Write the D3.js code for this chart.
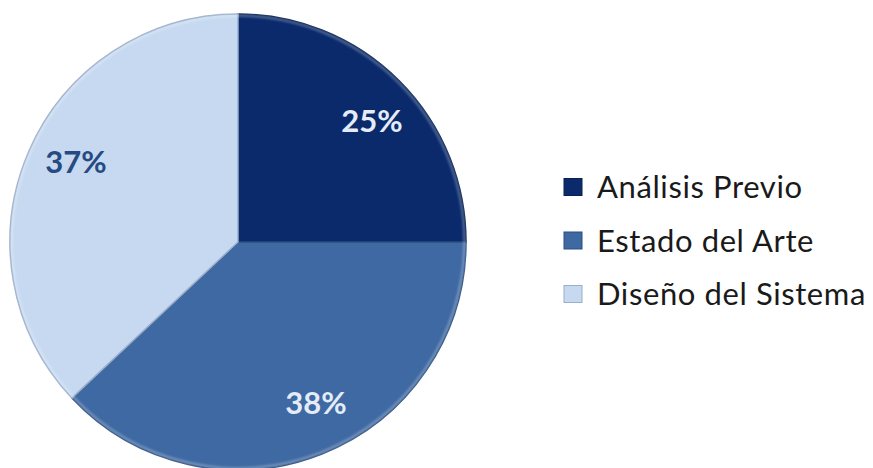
<!DOCTYPE html>
<html>
<head>
<meta charset="utf-8">
<script src="https://cdn.jsdelivr.net/npm/d3@7"></script>
<style>
  body { margin: 0; background: #fff; }
  svg { display: block; }
</style>
</head>
<body>
<div id="content"></div>
<script>
var categories = ["Análisis Previo", "Estado del Arte", "Diseño del Sistema"];
var values = [25, 38, 37];
var labels = ["25%", "38%", "37%"];

var colors = ["#0a2a6c", "#3f69a2", "#c6d9f0"];
var edgeColors = ["#06204f", "#2c4f80", "#9aaecb"];
var labelColors = ["#e4ecf7", "#e4ecf7", "#264a82"];

var width = 873, height = 468;
var cx = 238, cy = 242, radius = 228;

var svg = d3.select("div#content").append("svg")
  .attr("width", width)
  .attr("height", height);

var defs = svg.append("defs");
var blur = defs.append("filter").attr("id", "soft")
  .attr("x", "-10%").attr("y", "-10%").attr("width", "120%").attr("height", "120%");
blur.append("feGaussianBlur").attr("stdDeviation", 1.2);

var pie = d3.pie().sort(null).value(function(d) { return d; });
var arcs = pie(values);

var arc = d3.arc().innerRadius(0).outerRadius(radius);
var rim = d3.arc().innerRadius(radius - 3).outerRadius(radius);

var g = svg.append("g")
  .attr("transform", "translate(" + cx + "," + cy + ")");

g.selectAll(".slice")
  .data(arcs)
  .enter().append("path")
  .attr("class", "slice")
  .attr("d", arc)
  .attr("fill", function(d, i) { return colors[i]; })
  .attr("stroke", function(d, i) { return edgeColors[i]; })
  .attr("stroke-width", 1.5);

// light bevel along the rim
g.selectAll(".rim")
  .data(arcs)
  .enter().append("path")
  .attr("class", "rim")
  .attr("d", rim)
  .attr("fill", "#ffffff")
  .attr("opacity", 0.25)
  .attr("filter", "url(#soft)");

// label positions (relative to centre)
var labelPos = [
  [134, -121],
  [78, 161],
  [-162, -80]
];

g.selectAll(".pct")
  .data(arcs)
  .enter().append("text")
  .attr("class", "pct")
  .attr("x", function(d, i) { return labelPos[i][0]; })
  .attr("y", function(d, i) { return labelPos[i][1]; })
  .attr("dy", "0.36em")
  .attr("text-anchor", "middle")
  .style("font-family", "Lato, 'Open Sans', sans-serif")
  .style("font-weight", "bold")
  .style("font-size", "31px")
  .attr("fill", function(d, i) { return labelColors[i]; })
  .text(function(d, i) { return labels[i]; });

// legend
var legend = svg.append("g")
  .attr("transform", "translate(564,187)");

var rows = legend.selectAll(".row")
  .data(categories)
  .enter().append("g")
  .attr("class", "row")
  .attr("transform", function(d, i) { return "translate(0," + (i * 53.5) + ")"; });

rows.append("rect")
  .attr("x", 0)
  .attr("y", -8.5)
  .attr("width", 18)
  .attr("height", 17)
  .attr("fill", function(d, i) { return colors[i]; })
  .attr("stroke", function(d, i) { return edgeColors[i]; })
  .attr("stroke-width", 1);

rows.append("text")
  .attr("x", 33)
  .attr("y", 0)
  .attr("dy", "0.36em")
  .style("font-family", "Lato, 'Open Sans', sans-serif")
  .style("font-size", "31px")
  .style("letter-spacing", "0.6px")
  .attr("fill", "#1a1a1a")
  .text(function(d) { return d; });
</script>
</body>
</html>
